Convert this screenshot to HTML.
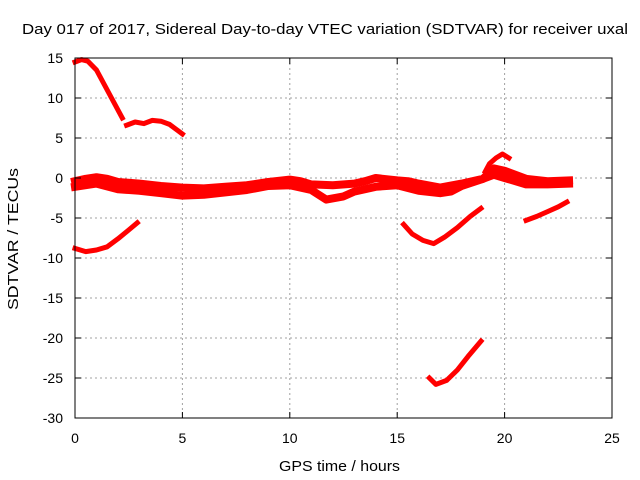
<!DOCTYPE html>
<html><head><meta charset="utf-8"><style>
body{margin:0;background:#fff;}
svg{display:block;font-family:"Liberation Sans",sans-serif;}
</style></head><body>
<svg id="chart" width="640" height="480">
<text x="22" y="34" font-size="15" textLength="606" lengthAdjust="spacingAndGlyphs">Day 017 of 2017, Sidereal Day-to-day VTEC variation (SDTVAR) for receiver uxal</text>
<text x="279" y="471" font-size="15" textLength="121" lengthAdjust="spacingAndGlyphs">GPS time / hours</text>
<text transform="translate(18,310) rotate(-90)" font-size="15" textLength="142" lengthAdjust="spacingAndGlyphs">SDTVAR / TECUs</text>
<g id="grid"></g><g id="series"></g>
<rect x="75" y="58" width="537" height="360" fill="none" stroke="#000" stroke-width="1"/>
<g id="ticks"></g>
</svg>
<script>
const xTicks=[0,5,10,15,20,25];
const yTicks=[-30,-25,-20,-15,-10,-5,0,5,10,15];
const s1=[[0,14.5],[0.3,14.8],[0.6,14.6],[1.0,13.5],[1.4,11.5],[1.8,9.5],[2.2,7.5]];
const s2=[[2.4,6.6],[2.8,7.0],[3.2,6.8],[3.6,7.2],[4.0,7.1],[4.4,6.7],[4.8,5.9],[5.0,5.5]];
const s3=[[0,-8.8],[0.5,-9.2],[1,-9.0],[1.5,-8.6],[2,-7.6],[2.5,-6.5],[2.9,-5.6]];
const bandA=[[0,-0.4],[0.5,-0.1],[1,0.1],[1.5,-0.1],[2,-0.5],[3,-0.7],[4,-1.0],[5,-1.2],[6,-1.3],[7,-1.1],[8,-0.9],[9,-0.5],[10,-0.2],[10.5,-0.4],[11,-0.8],[12,-0.9],[13,-0.7],[13.5,-0.4],[14,0],[15,-0.3],[15.5,-0.4],[16,-0.7],[17,-1.2],[18,-0.7],[19,-0.1],[19.5,1.2],[20,0.9],[21,-0.1],[22,-0.4],[23,-0.3]];
const bandB=[[0,-1.1],[1,-0.7],[2,-1.4],[3,-1.6],[4,-1.9],[5,-2.2],[6,-2.1],[7,-1.8],[8,-1.5],[9,-1.0],[10,-0.9],[11,-1.5],[11.7,-2.7],[12.5,-2.3],[13,-1.7],[14,-1.1],[15,-0.9],[16,-1.6],[17,-1.9],[17.5,-1.7],[18,-1.0],[19,-0.1],[19.5,0.4],[20,0],[21,-0.8],[22,-0.8],[23,-0.7]];
const peak=[[19.1,0.8],[19.3,1.8],[19.6,2.5],[19.9,3.0],[20.2,2.5]];
const s4=[[15.3,-5.8],[15.7,-7],[16.2,-7.8],[16.7,-8.2],[17.2,-7.4],[17.8,-6.2],[18.4,-4.8],[18.9,-3.8]];
const s5=[[21,-5.3],[21.5,-4.8],[22,-4.2],[22.5,-3.6],[22.9,-3.0]];
const s6=[[16.5,-25],[16.8,-25.8],[17.3,-25.3],[17.8,-24],[18.3,-22.3],[18.9,-20.4]];
const NS="http://www.w3.org/2000/svg";
const X=v=>75+v*537/25, Y=v=>178-v*8;
const grid=document.getElementById('grid'),ticks=document.getElementById('ticks'),ser=document.getElementById('series');
function mk(t,a,p){const e=document.createElementNS(NS,t);for(const k in a)e.setAttribute(k,a[k]);p.appendChild(e);return e;}
xTicks.forEach(v=>{
 if(v>0&&v<25){const g=mk('line',{x1:X(v),x2:X(v),y1:58,y2:418,stroke:'#a0a0a0','stroke-dasharray':'2,3'},grid);
 
 }
 mk('line',{x1:X(v),x2:X(v),y1:418,y2:412,stroke:'#000'},ticks);
 mk('line',{x1:X(v),x2:X(v),y1:58,y2:64,stroke:'#000'},ticks);
 const t=mk('text',{x:X(v),y:443,'font-size':14,'text-anchor':'middle'},ticks);t.textContent=v;
 
 
});
yTicks.forEach(v=>{
 if(v>-30&&v<15){const g=mk('line',{x1:75,x2:612,y1:Y(v),y2:Y(v),stroke:'#a0a0a0','stroke-dasharray':'2,3'},grid);
 
 }
 mk('line',{x1:75,x2:81,y1:Y(v),y2:Y(v),stroke:'#000'},ticks);
 mk('line',{x1:612,x2:606,y1:Y(v),y2:Y(v),stroke:'#000'},ticks);
 const t=mk('text',{x:63,y:Y(v)+5,'font-size':14,'text-anchor':'end'},ticks);t.textContent=v;
 
 
});
[[s1,5],[s2,5],[s3,5],[bandA,8],[bandB,8],[peak,5],[s4,5],[s5,5],[s6,5]].forEach(([d,w],i)=>{
 const p=mk('polyline',{points:d.map(q=>X(q[0])+','+Y(q[1])).join(' '),fill:'none',stroke:'#ff0000','stroke-width':w,'stroke-linejoin':'round','stroke-linecap':'square'},ser);
 
 
});
</script>
</body></html>
